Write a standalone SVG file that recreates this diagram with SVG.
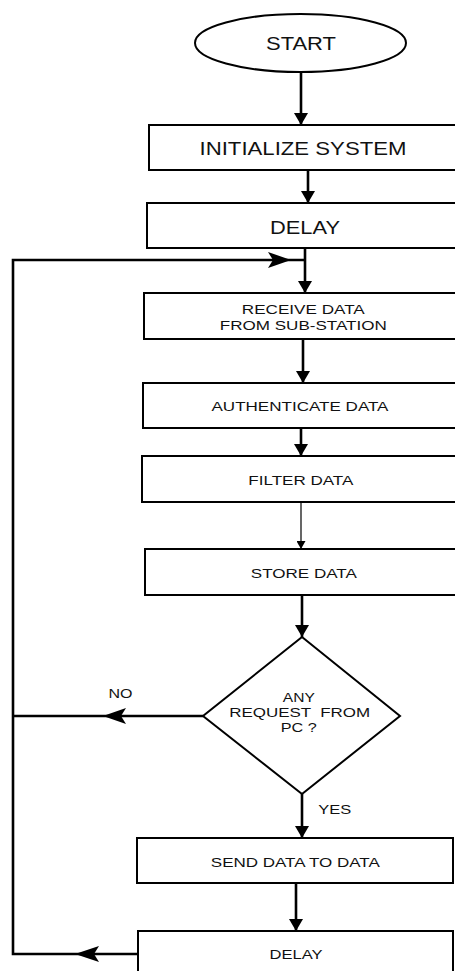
<svg xmlns="http://www.w3.org/2000/svg" width="455" height="971" viewBox="0 0 455 971">
<style>
.shape{fill:#fff;stroke:#000;stroke-width:2}
.t{font-family:"Liberation Sans",Arial,sans-serif;fill:#111;text-anchor:middle}
.big{font-size:18px}
.sm{font-size:13.5px}
.ln{fill:none;stroke:#000;stroke-width:2.6}
.thin{fill:none;stroke:#000;stroke-width:1.2}
.head{fill:#000}
</style>
<defs>
<marker id="arr" markerUnits="userSpaceOnUse" markerWidth="14" markerHeight="14" refX="12" refY="7" orient="auto">
<path d="M0,0 L12,7 L0,14 z" fill="#000"/>
</marker>
<marker id="arrs" markerUnits="userSpaceOnUse" markerWidth="9" markerHeight="9" refX="8" refY="4.5" orient="auto">
<path d="M0,0 L8,4.5 L0,9 z" fill="#000"/>
</marker>
</defs>
<rect width="455" height="971" fill="#fff"/>
<g id="connectors">
<line class="ln" x1="301" y1="72" x2="301" y2="125" marker-end="url(#arr)"/>
<line class="ln" x1="308" y1="170" x2="308" y2="203" marker-end="url(#arr)"/>
<line class="ln" x1="305" y1="248" x2="305" y2="293" marker-end="url(#arr)"/>
<line class="ln" x1="303" y1="339" x2="303" y2="383" marker-end="url(#arr)"/>
<line class="ln" x1="301" y1="428" x2="301" y2="456" marker-end="url(#arr)"/>
<line class="thin" x1="301" y1="502" x2="301" y2="549" marker-end="url(#arrs)"/>
<line class="ln" x1="302" y1="595" x2="302" y2="637" marker-end="url(#arr)"/>
<line class="ln" x1="302" y1="794" x2="302" y2="838" marker-end="url(#arr)"/>
<line class="ln" x1="296" y1="883" x2="296" y2="931" marker-end="url(#arr)"/>
<polyline class="ln" points="138,954 13,954 13,260 305,260"/>
<line class="ln" x1="203" y1="716" x2="13" y2="716"/>
<path class="head" d="M291,260 L268,252 L273,260 L268,268 z"/>
<path class="head" d="M103,716 L126,708 L121,716 L126,724 z"/>
<path class="head" d="M75,954 L99,946 L94,954 L99,962 z"/>
<text class="t sm" x="120.5" y="697.7" textLength="24" lengthAdjust="spacingAndGlyphs">NO</text>
<text class="t sm" x="334.7" y="814" textLength="33" lengthAdjust="spacingAndGlyphs">YES</text>
</g>
<g id="start">
<ellipse class="shape" cx="300.5" cy="43" rx="105.5" ry="29"/>
<text class="t big" x="301" y="49.5" textLength="70" lengthAdjust="spacingAndGlyphs">START</text>
</g>
<g id="init">
<rect class="shape" x="149" y="125" width="310" height="45"/>
<text class="t big" x="303" y="155" textLength="207" lengthAdjust="spacingAndGlyphs">INITIALIZE SYSTEM</text>
</g>
<g id="delay1">
<rect class="shape" x="147" y="203" width="315" height="45"/>
<text class="t big" x="305" y="233.5" textLength="70" lengthAdjust="spacingAndGlyphs">DELAY</text>
</g>
<g id="receive">
<rect class="shape" x="144" y="293" width="318" height="46"/>
<text class="t sm" x="303.3" y="314" textLength="123" lengthAdjust="spacingAndGlyphs">RECEIVE DATA</text>
<text class="t sm" x="303.3" y="330" textLength="167" lengthAdjust="spacingAndGlyphs">FROM SUB-STATION</text>
</g>
<g id="authenticate">
<rect class="shape" x="143" y="383" width="315" height="45"/>
<text class="t sm" x="300" y="411" textLength="177" lengthAdjust="spacingAndGlyphs">AUTHENTICATE DATA</text>
</g>
<g id="filter">
<rect class="shape" x="142" y="456" width="316" height="46"/>
<text class="t sm" x="300.8" y="485" textLength="105" lengthAdjust="spacingAndGlyphs">FILTER DATA</text>
</g>
<g id="store">
<rect class="shape" x="145" y="549" width="316" height="46"/>
<text class="t sm" x="303.8" y="578.3" textLength="106" lengthAdjust="spacingAndGlyphs">STORE DATA</text>
</g>
<g id="decision">
<polygon class="shape" points="302,637 400,716 302,794 203,716"/>
<text class="t sm" x="298.8" y="702.3" textLength="32" lengthAdjust="spacingAndGlyphs">ANY</text>
<text class="t sm" x="299.7" y="717.3" textLength="141" lengthAdjust="spacingAndGlyphs" xml:space="preserve" style="white-space:pre">REQUEST  FROM</text>
<text class="t sm" x="298.8" y="732.3" textLength="36" lengthAdjust="spacingAndGlyphs">PC ?</text>
</g>
<g id="send">
<rect class="shape" x="137" y="838" width="316" height="45"/>
<text class="t sm" x="295.3" y="866.7" textLength="169" lengthAdjust="spacingAndGlyphs">SEND DATA TO DATA</text>
</g>
<g id="delay2">
<rect class="shape" x="138" y="931" width="315" height="50"/>
<text class="t sm" x="296" y="959.3" textLength="53" lengthAdjust="spacingAndGlyphs">DELAY</text>
</g>
</svg>
